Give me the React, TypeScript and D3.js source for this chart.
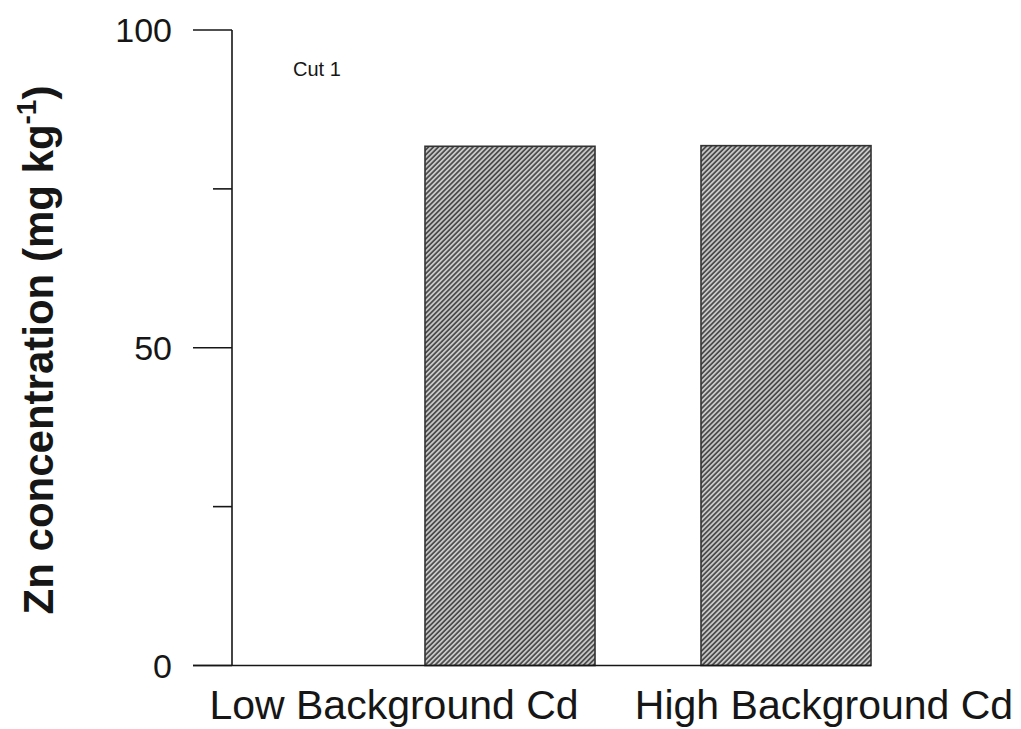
import React from "react";
import * as d3 from "d3";

const categories = ["Low Background Cd", "High Background Cd"];
const zinc = [81.7, 81.8];
const majorTicks = [0, 50, 100];
const minorTicks = [25, 75];
const yTitle = "Zn concentration (mg kg";
const panelLabel = "Cut 1";

const W = 1021;
const H = 729;

export default function App() {
  const y = d3.scaleLinear().domain([0, 100]).range([665.5, 30]);
  const xBar = d3
    .scaleBand<string>()
    .domain(categories)
    .range([372, 924])
    .paddingInner(0.384)
    .paddingOuter(0.192);
  const xLabel = d3.scalePoint<string>().domain(categories).range([394, 824]);
  const axisX = 232;
  const ink = "#161616";
  const font = "'Liberation Sans', Arial, sans-serif";
  const lastRight = (xBar(categories[categories.length - 1]) ?? 0) + xBar.bandwidth();

  return (
    <svg
      width={W}
      height={H}
      style={{ position: "absolute", left: 0, top: 0, background: "#fff" }}
      fontFamily={font}
    >
      <defs>
        <pattern
          id="hatch"
          patternUnits="userSpaceOnUse"
          width={3.5}
          height={3.5}
          patternTransform="rotate(45)"
        >
          <rect width={3.5} height={3.5} fill="#c8c8c8" />
          <line x1={0.9} y1={0} x2={0.9} y2={3.5} stroke="#4a4a4a" strokeWidth={1.7} />
        </pattern>
      </defs>

      {categories.map((c, i) => (
        <rect
          key={c}
          x={xBar(c)}
          y={y(zinc[i])}
          width={xBar.bandwidth()}
          height={y(0) - y(zinc[i])}
          fill="url(#hatch)"
          stroke="#333"
          strokeWidth={1.6}
        />
      ))}

      <line x1={axisX} x2={axisX} y1={y(100)} y2={y(0)} stroke={ink} strokeWidth={1.6} />
      {majorTicks.map((t) => (
        <g key={t}>
          <line x1={193} x2={axisX} y1={y(t)} y2={y(t)} stroke={ink} strokeWidth={1.6} />
          <text x={172} y={y(t)} dy="0.36em" textAnchor="end" fontSize={34} fill={ink}>
            {t}
          </text>
        </g>
      ))}
      {minorTicks.map((t) => (
        <line key={t} x1={213} x2={axisX} y1={y(t)} y2={y(t)} stroke={ink} strokeWidth={1.6} />
      ))}

      <line x1={193} x2={lastRight} y1={y(0)} y2={y(0)} stroke={ink} strokeWidth={1.6} />

      {categories.map((c) => (
        <text key={c} x={xLabel(c)} y={719} textAnchor="middle" fontSize={41} fill={ink}>
          {c}
        </text>
      ))}

      <text x={293} y={76} fontSize={20} fontWeight={500} fill={ink}>
        {panelLabel}
      </text>

      <text
        transform={`translate(53, 350) rotate(-90)`}
        textAnchor="middle"
        fontSize={42}
        fontWeight="bold"
        fill={ink}
      >
        {yTitle}
        <tspan fontSize={28} dy={-17}>-1</tspan>
        <tspan dy={17}>)</tspan>
      </text>
    </svg>
  );
}
